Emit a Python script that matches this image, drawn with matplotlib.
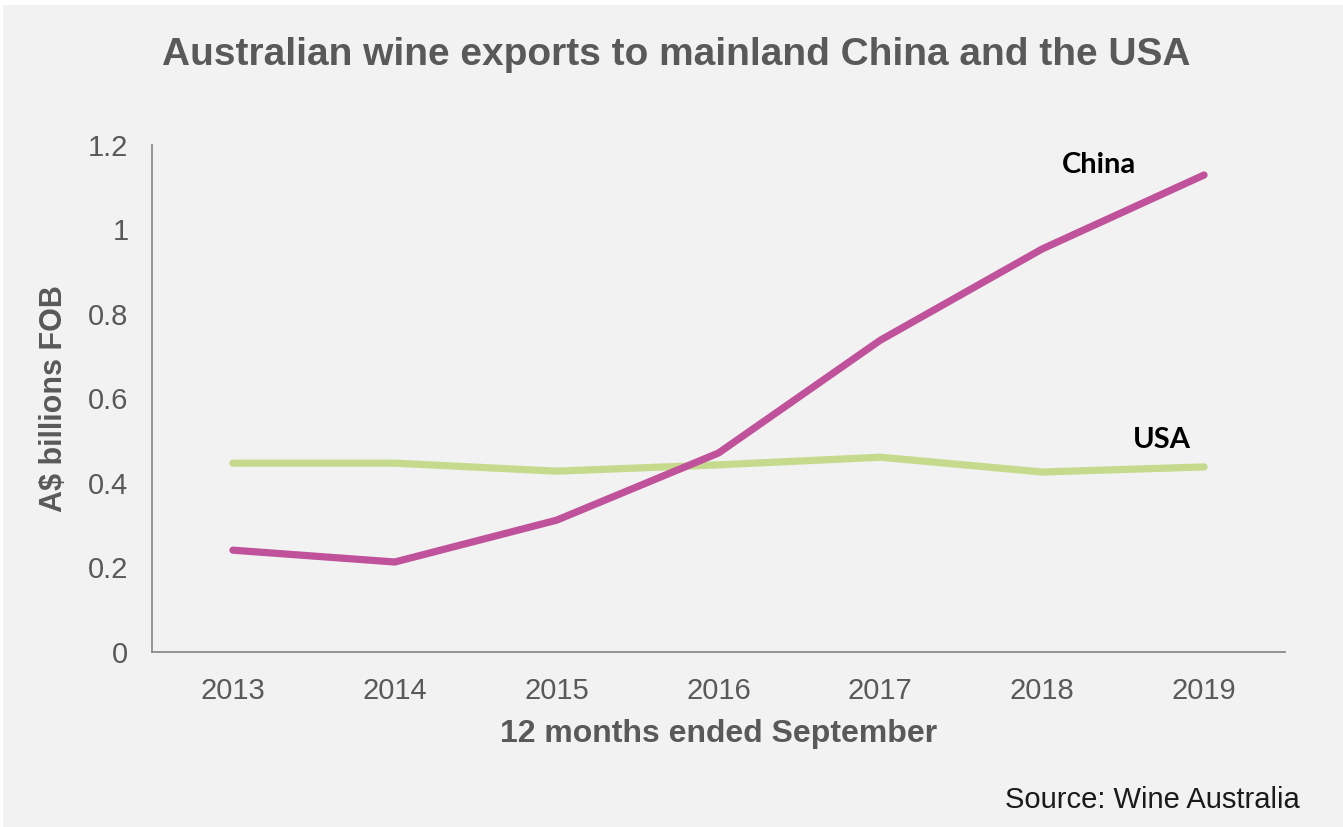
import matplotlib
matplotlib.use("Agg")
import matplotlib.pyplot as plt
from matplotlib.patches import Rectangle

years = ["2013", "2014", "2015", "2016", "2017", "2018", "2019"]
china = [0.241, 0.213, 0.312, 0.471, 0.738, 0.954, 1.129]
usa = [0.447, 0.447, 0.428, 0.443, 0.461, 0.426, 0.438]
y_ticks = [0, 0.2, 0.4, 0.6, 0.8, 1.0, 1.2]
y_tick_labels = ["0", "0.2", "0.4", "0.6", "0.8", "1", "1.2"]

CHINA_COLOR = "#c0529b"
USA_COLOR = "#c6da8e"
TEXT_GRAY = "#595959"
BG = "#f2f2f2"

W, H = 1343, 827
fig = plt.figure(figsize=(W / 100, H / 100), dpi=100, facecolor="white")
fig.patches.append(Rectangle((3 / W, 0), 1 - 3 / W, 1 - 5 / H,
                             transform=fig.transFigure, facecolor=BG,
                             edgecolor="none", zorder=-10))

ax = fig.add_axes([152 / W, (H - 652) / H, (1285 - 152) / W, (652 - 145) / H])
ax.set_facecolor("none")

x = list(range(len(years)))
ax.plot(x, usa, color=USA_COLOR, lw=5.2, solid_capstyle="round", zorder=3)
ax.plot(x, china, color=CHINA_COLOR, lw=5.2, solid_capstyle="round", zorder=4)

ax.set_xlim(-0.5, len(years) - 0.5)
ax.set_ylim(0, 1.2)
ax.set_xticks(x)
ax.set_xticklabels(years)
ax.set_yticks(y_ticks)
ax.set_yticklabels(y_tick_labels)

for s in ["top", "right"]:
    ax.spines[s].set_visible(False)
for s in ["left", "bottom"]:
    ax.spines[s].set_color("#8c8c8c")
    ax.spines[s].set_linewidth(1.3)

ax.tick_params(axis="both", length=0, colors=TEXT_GRAY, labelsize=21)
ax.tick_params(axis="x", pad=18)
ax.tick_params(axis="y", pad=17)
for lab in ax.get_xticklabels() + ax.get_yticklabels():
    lab.set_fontfamily("Liberation Sans")

ax.set_xlabel("12 months ended September", fontsize=23, fontweight="bold",
              color=TEXT_GRAY, family="Liberation Sans", labelpad=10)
ax.set_ylabel("A$ billions FOB", fontsize=22, fontweight="bold",
              color=TEXT_GRAY, family="Liberation Sans", labelpad=14)

fig.text(676 / W, 1 - 55 / H, "Australian wine exports to mainland China and the USA",
         ha="center", va="center", fontsize=28, fontweight="bold",
         color=TEXT_GRAY, family="Liberation Sans")

ax.text(5.35, 1.153, "China", ha="center", va="center", fontsize=21,
        fontweight="bold", color="black", family="Lato")
ax.text(5.74, 0.502, "USA", ha="center", va="center", fontsize=21,
        fontweight="bold", color="black", family="Lato")

fig.text(1300 / W, 1 - 800 / H, "Source: Wine Australia", ha="right", va="center",
         fontsize=21, color="#1a1a1a", family="Liberation Sans")

fig.savefig("out.png", dpi=100, facecolor=fig.get_facecolor())
